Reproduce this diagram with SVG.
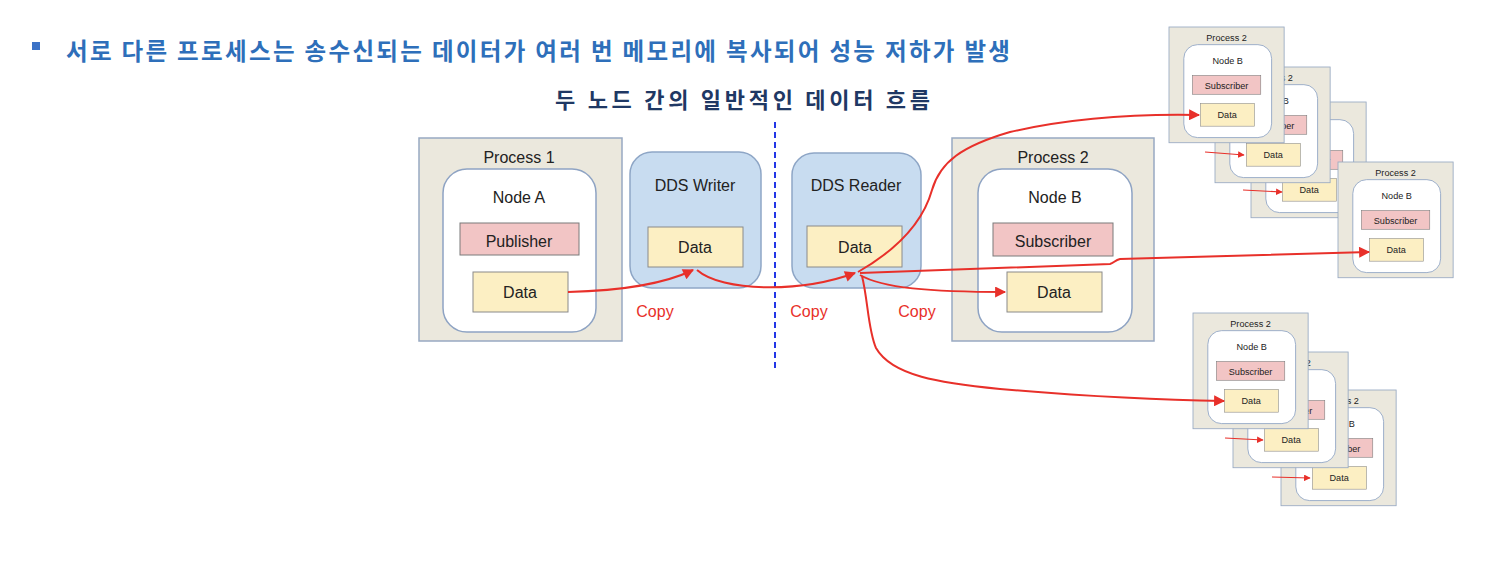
<svg xmlns="http://www.w3.org/2000/svg" width="1486" height="566" viewBox="0 0 1486 566">
<style>
.proc{fill:#ebe8dd;stroke:#98a9c2;stroke-width:1.5}
.node{fill:#ffffff;stroke:#8ea3c3;stroke-width:1.5}
.dds{fill:#c8dcf0;stroke:#8ea6c6;stroke-width:1.5}
.pub{fill:#f2c5c5;stroke:#7a7a7a;stroke-width:1}
.data{fill:#fcefc3;stroke:#8a8a8a;stroke-width:1}
.lbl{font-family:"Liberation Sans",Arial,sans-serif;font-size:16px;fill:#222;text-anchor:middle}
.copy{font-family:"Liberation Sans",Arial,sans-serif;font-size:16px;fill:#e8302a;text-anchor:middle}
.arr{fill:none;stroke:#e8302a;stroke-width:2;marker-end:url(#ah)}
.sarr{fill:none;stroke:#e8302a;stroke-width:1.2;marker-end:url(#ah)}
.kr{font-family:"Noto Sans CJK KR",sans-serif;font-weight:bold}
</style>
<defs>
<marker id="ah" viewBox="0 0 10 10" refX="9" refY="5" markerWidth="6" markerHeight="5.5" orient="auto" markerUnits="strokeWidth">
<path d="M0,0 L10,5 L0,10 z" fill="#e8302a"/>
</marker>
</defs>
<rect width="1486" height="566" fill="#ffffff"/>

<g id="title">
<rect x="32" y="42" width="8" height="8" fill="#3b72c6"/>
<text class="kr" x="66" y="60" font-size="23.5" fill="#2e6fba" textLength="944" lengthAdjust="spacing">서로 다른 프로세스는 송수신되는 데이터가 여러 번 메모리에 복사되어 성능 저하가 발생</text>
<text class="kr" x="555" y="108" font-size="22" fill="#1f3864" textLength="375" lengthAdjust="spacing">두 노드 간의 일반적인 데이터 흐름</text>
</g>

<g id="process1" transform="translate(419,138)">
<rect class="proc" x="0" y="0" width="203" height="203"/>
<text class="lbl" x="100" y="25">Process 1</text>
<rect class="node" x="24" y="31" width="153" height="163" rx="24"/>
<text class="lbl" x="100" y="65">Node A</text>
<rect class="pub" x="41" y="85" width="119" height="32"/>
<text class="lbl" x="100" y="109">Publisher</text>
<rect class="data" x="54" y="134" width="95" height="40"/>
<text class="lbl" x="101" y="160">Data</text>
</g>

<g id="ddswriter">
<rect class="dds" x="630" y="152" width="131" height="136" rx="22"/>
<text class="lbl" x="695" y="191">DDS Writer</text>
<rect class="data" x="648" y="227" width="95" height="40"/>
<text class="lbl" x="695" y="253">Data</text>
</g>

<g id="ddsreader">
<rect class="dds" x="792" y="153" width="129" height="135" rx="22"/>
<text class="lbl" x="856" y="191">DDS Reader</text>
<rect class="data" x="807" y="226" width="95" height="41"/>
<text class="lbl" x="855" y="253">Data</text>
</g>

<g id="process2" transform="translate(952,138)">
<rect class="proc" x="0" y="0" width="202" height="203"/>
<text class="lbl" x="101" y="25">Process 2</text>
<rect class="node" x="26" y="31" width="154" height="163" rx="24"/>
<text class="lbl" x="103" y="65">Node B</text>
<rect class="pub" x="41" y="85" width="120" height="33"/>
<text class="lbl" x="101" y="109">Subscriber</text>
<rect class="data" x="55" y="134" width="95" height="40"/>
<text class="lbl" x="102" y="160">Data</text>
</g>

<g id="top-card3" transform="translate(1251,102) scale(0.57)">
<rect class="proc" x="0" y="0" width="202" height="203"/>
<text class="lbl" x="101" y="25">Process 2</text>
<rect class="node" x="26" y="31" width="154" height="163" rx="24"/>
<text class="lbl" x="103" y="65">Node B</text>
<rect class="pub" x="41" y="85" width="120" height="33"/>
<text class="lbl" x="101" y="109">Subscriber</text>
<rect class="data" x="55" y="134" width="95" height="40"/>
<text class="lbl" x="102" y="160">Data</text>
</g>
<g id="top-card2" transform="translate(1215,67) scale(0.57)">
<rect class="proc" x="0" y="0" width="202" height="203"/>
<text class="lbl" x="101" y="25">Process 2</text>
<rect class="node" x="26" y="31" width="154" height="163" rx="24"/>
<text class="lbl" x="103" y="65">Node B</text>
<rect class="pub" x="41" y="85" width="120" height="33"/>
<text class="lbl" x="101" y="109">Subscriber</text>
<rect class="data" x="55" y="134" width="95" height="40"/>
<text class="lbl" x="102" y="160">Data</text>
</g>
<g id="top-card1" transform="translate(1169,27) scale(0.57)">
<rect class="proc" x="0" y="0" width="202" height="203"/>
<text class="lbl" x="101" y="25">Process 2</text>
<rect class="node" x="26" y="31" width="154" height="163" rx="24"/>
<text class="lbl" x="103" y="65">Node B</text>
<rect class="pub" x="41" y="85" width="120" height="33"/>
<text class="lbl" x="101" y="109">Subscriber</text>
<rect class="data" x="55" y="134" width="95" height="40"/>
<text class="lbl" x="102" y="160">Data</text>
</g>

<g id="mid-card" transform="translate(1338,162) scale(0.57)">
<rect class="proc" x="0" y="0" width="202" height="203"/>
<text class="lbl" x="101" y="25">Process 2</text>
<rect class="node" x="26" y="31" width="154" height="163" rx="24"/>
<text class="lbl" x="103" y="65">Node B</text>
<rect class="pub" x="41" y="85" width="120" height="33"/>
<text class="lbl" x="101" y="109">Subscriber</text>
<rect class="data" x="55" y="134" width="95" height="40"/>
<text class="lbl" x="102" y="160">Data</text>
</g>

<g id="bot-card3" transform="translate(1281,390) scale(0.57)">
<rect class="proc" x="0" y="0" width="202" height="203"/>
<text class="lbl" x="101" y="25">Process 2</text>
<rect class="node" x="26" y="31" width="154" height="163" rx="24"/>
<text class="lbl" x="103" y="65">Node B</text>
<rect class="pub" x="41" y="85" width="120" height="33"/>
<text class="lbl" x="101" y="109">Subscriber</text>
<rect class="data" x="55" y="134" width="95" height="40"/>
<text class="lbl" x="102" y="160">Data</text>
</g>
<g id="bot-card2" transform="translate(1233,352) scale(0.57)">
<rect class="proc" x="0" y="0" width="202" height="203"/>
<text class="lbl" x="101" y="25">Process 2</text>
<rect class="node" x="26" y="31" width="154" height="163" rx="24"/>
<text class="lbl" x="103" y="65">Node B</text>
<rect class="pub" x="41" y="85" width="120" height="33"/>
<text class="lbl" x="101" y="109">Subscriber</text>
<rect class="data" x="55" y="134" width="95" height="40"/>
<text class="lbl" x="102" y="160">Data</text>
</g>
<g id="bot-card1" transform="translate(1193,313) scale(0.57)">
<rect class="proc" x="0" y="0" width="202" height="203"/>
<text class="lbl" x="101" y="25">Process 2</text>
<rect class="node" x="26" y="31" width="154" height="163" rx="24"/>
<text class="lbl" x="103" y="65">Node B</text>
<rect class="pub" x="41" y="85" width="120" height="33"/>
<text class="lbl" x="101" y="109">Subscriber</text>
<rect class="data" x="55" y="134" width="95" height="40"/>
<text class="lbl" x="102" y="160">Data</text>
</g>

<g id="divider">
<line x1="775" y1="122" x2="775" y2="372" stroke="#2236e6" stroke-width="2" stroke-dasharray="6 4"/>
</g>

<g id="labels">
<text class="copy" x="655" y="317">Copy</text>
<text class="copy" x="809" y="317">Copy</text>
<text class="copy" x="917" y="317">Copy</text>
</g>

<g id="connectors">
<path class="arr" d="M568,292 C610,291 660,286 693,270"/>
<path class="arr" d="M697,270 C722,292 800,293 855,273"/>
<path class="arr" d="M860,275 C882,288 930,292 1005,292"/>
<path class="arr" d="M858,272 C905,245 925,215 932,190 C940,162 962,146 1010,132 C1080,116 1150,114 1199,115"/>
<path class="arr" d="M860,273 L1110,264 C1114,263 1115,260 1120,259 L1369,252"/>
<path class="arr" d="M862,276 C868,300 868,330 876,348 C892,376 940,383 1000,389 C1080,396 1150,400 1224,401"/>
<path class="sarr" d="M1205,152 L1244,155"/>
<path class="sarr" d="M1243,190 L1282,192"/>
<path class="sarr" d="M1225,438 L1263,440"/>
<path class="sarr" d="M1272,477 L1310,478"/>
</g>
</svg>
